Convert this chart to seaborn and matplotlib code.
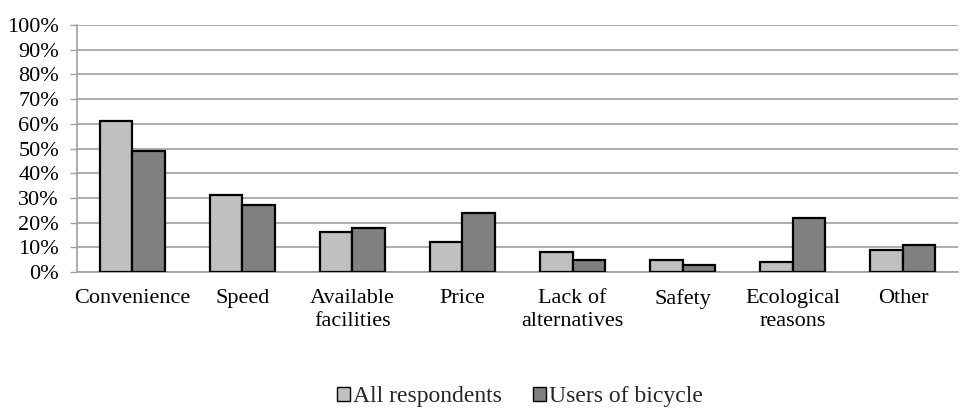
import matplotlib
matplotlib.use("Agg")
import matplotlib.pyplot as plt
import seaborn as sns
import pandas as pd
import numpy as np
from matplotlib.ticker import FixedLocator, PercentFormatter

categories = ["Convenience", "Speed", "Available\nfacilities", "Price",
              "Lack of\nalternatives", "Safety", "Ecological\nreasons", "Other"]
all_respondents = [61, 31, 16, 12, 8, 5, 4, 9]
users_of_bicycle = [49, 27, 18, 24, 5, 3, 22, 11]
series_names = ["All respondents", "Users of bicycle"]
yticks = list(range(0, 101, 10))

df = pd.DataFrame({
    "category": categories * 2,
    "value": all_respondents + users_of_bicycle,
    "series": [series_names[0]] * len(categories) + [series_names[1]] * len(categories),
})

sns.set_theme(style="white")
plt.rcParams["font.family"] = ["Liberation Serif", "DejaVu Serif"]

fig = plt.figure(figsize=(9.7, 4.08), dpi=100)
ax = fig.add_axes([0.0794, 0.3333, 0.9082, 0.6054])

sns.barplot(data=df, x="category", y="value", hue="series", order=categories,
            hue_order=series_names, palette=["#C0C0C0", "#808080"],
            width=0.59, edgecolor="black", linewidth=1.6, ax=ax, zorder=3,
            legend=True)

ax.set_xlim(-0.5, len(categories) - 0.5)
ax.set_ylim(0, 100)
ax.yaxis.set_major_locator(FixedLocator(yticks))
ax.yaxis.set_major_formatter(PercentFormatter(decimals=0))
ax.grid(axis="y", color="#A0A0A0", linewidth=1.2, zorder=0)
ax.set_axisbelow(True)

for s in ["top", "right"]:
    ax.spines[s].set_visible(False)
ax.spines["left"].set_color("#A0A0A0")
ax.spines["bottom"].set_color("#A0A0A0")
ax.spines["left"].set_linewidth(1.2)
ax.spines["bottom"].set_linewidth(1.2)

ax.set_xlabel("")
ax.set_ylabel("")
ax.tick_params(axis="x", which="major", length=0, labelsize=16, pad=12, colors="black")
ax.set_xticks(np.arange(-0.5, len(categories), 1.0), minor=True)
ax.tick_params(axis="x", which="minor", length=4, color="#A0A0A0", width=1.0, direction="out")
ax.tick_params(axis="y", which="major", length=5, color="#A0A0A0", width=1.0,
               direction="out", labelsize=16, pad=8, left=True, colors="black")
for lbl in ax.get_xticklabels():
    lbl.set_linespacing(1.3)

handles, labels = ax.get_legend_handles_labels()
ax.legend_.remove()
leg = fig.legend(handles, labels, loc="center", bbox_to_anchor=(0.536, 0.028), ncol=2,
                 frameon=False, fontsize=17, handlelength=0.55, handleheight=0.55,
                 handletextpad=0.15, columnspacing=1.3, borderpad=0.2)
for h in leg.legend_handles:
    h.set_edgecolor("black")
    h.set_linewidth(1.0)

fig.savefig("out.png", dpi=100)
